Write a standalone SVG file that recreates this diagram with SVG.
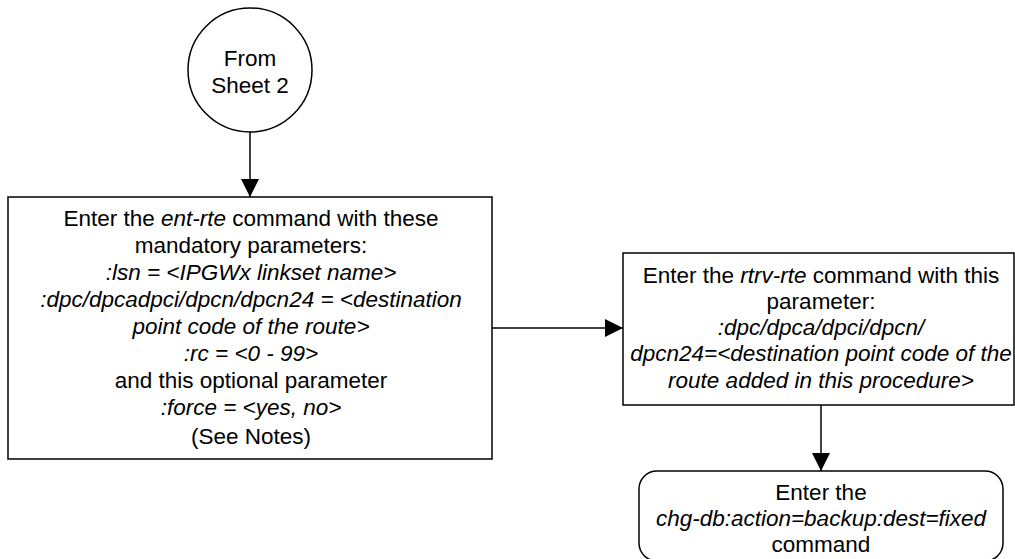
<svg xmlns="http://www.w3.org/2000/svg" width="1015" height="559" viewBox="0 0 1015 559">
<style>
.shape{fill:#fff;stroke:#000;stroke-width:1.5}
.conn{fill:none;stroke:#000;stroke-width:1.5}
text{font-family:"Liberation Sans",Arial,sans-serif;font-size:22.5px;fill:#000;text-anchor:middle}
.i{font-style:italic}
</style>
<defs>
<marker id="arr" markerUnits="userSpaceOnUse" markerWidth="18" markerHeight="18" refX="18" refY="9" orient="auto">
<path d="M0,0 L18,9 L0,18 Z" fill="#000"/>
</marker>
</defs>
<g id="connectors">
<line class="conn" x1="250" y1="132" x2="250" y2="197" marker-end="url(#arr)"/>
<line class="conn" x1="492" y1="328" x2="623" y2="328" marker-end="url(#arr)"/>
<line class="conn" x1="821" y1="405" x2="821" y2="471" marker-end="url(#arr)"/>
</g>
<g id="start">
<circle class="shape" cx="250" cy="70" r="62"/>
<text x="250" y="66">From</text>
<text x="250" y="93">Sheet 2</text>
</g>
<g id="ent-rte">
<rect class="shape" x="8" y="197" width="484" height="262"/>
<text x="251" y="226">Enter the <tspan class="i">ent-rte</tspan> command with these</text>
<text x="251" y="253">mandatory parameters:</text>
<text x="251" y="280" class="i">:lsn = &lt;IPGWx linkset name&gt;</text>
<text x="251" y="307" class="i">:dpc/dpcadpci/dpcn/dpcn24 = &lt;destination</text>
<text x="251" y="334" class="i">point code of the route&gt;</text>
<text x="251" y="361" class="i">:rc = &lt;0 - 99&gt;</text>
<text x="251" y="388">and this optional parameter</text>
<text x="251" y="415" class="i">:force = &lt;yes, no&gt;</text>
<text x="251" y="444">(See Notes)</text>
</g>
<g id="rtrv-rte">
<rect class="shape" x="623" y="253" width="391" height="152"/>
<text x="821" y="283">Enter the <tspan class="i">rtrv-rte</tspan>  command with this</text>
<text x="821" y="309">parameter:</text>
<text x="821" y="335" class="i">:dpc/dpca/dpci/dpcn/</text>
<text x="821" y="361" class="i">dpcn24=&lt;destination point code of the</text>
<text x="821" y="388" class="i">route added in this procedure&gt;</text>
</g>
<g id="chg-db">
<rect class="shape" x="639" y="471" width="364" height="90" rx="18" ry="18"/>
<text x="821" y="500">Enter the</text>
<text x="821" y="526" class="i">chg-db:action=backup:dest=fixed</text>
<text x="821" y="552">command</text>
</g>
</svg>
